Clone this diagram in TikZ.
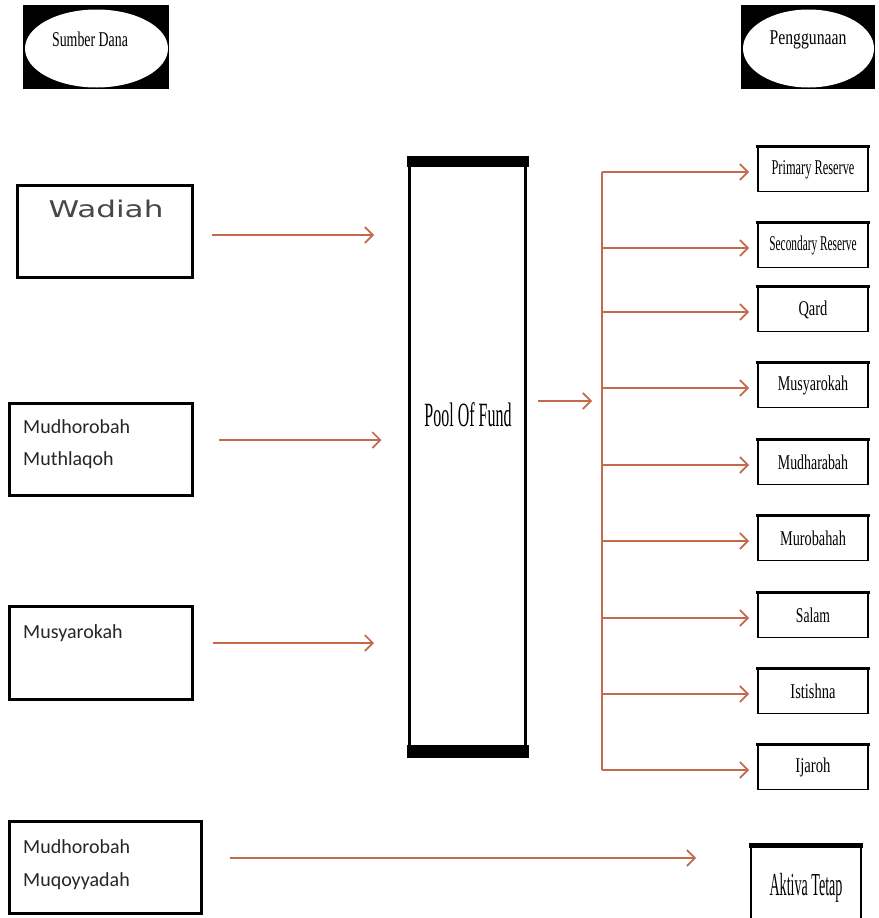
\documentclass[tikz,border=0pt]{standalone}
\usepackage{graphicx}
\usepackage{fontspec}
\setmainfont{Liberation Serif}
\newfontfamily\calfont{Carlito}
\newfontfamily\vfont{DejaVu Sans}
\usetikzlibrary{arrows.meta,shapes.geometric,calc}
\definecolor{arrc}{RGB}{196,105,75}
\newcommand\rs[2]{\scalebox{#1}[1]{#2}}
\begin{document}
\begin{tikzpicture}[x=1pt,y=-1pt,
 arr/.style={draw=arrc, line width=1.7pt, -{Straight Barb[length=8pt,width=16pt]}},
 bus/.style={draw=arrc, line width=1.7pt},
 lbox/.style={draw, line width=3pt, inner sep=0pt},
 rbox/.style={draw, line width=1.8pt, minimum width=110pt, minimum height=44pt, inner sep=0pt, font=\fontsize{21}{24}\selectfont},
 ltxt/.style={font=\calfont\fontsize{20}{24}\selectfont, text=black!85, inner sep=0pt, anchor=base west},
 hdbg/.style={fill=black, inner sep=0pt, minimum height=84pt},
 hdell/.style={ellipse, fill=white, inner sep=0pt, minimum height=78pt},
 hdtxt/.style={anchor=base, inner sep=0pt, font=\fontsize{21}{24}\selectfont},
]
\clip (0,0) rectangle (878,918);
\fill[white] (0,0) rectangle (878,918);

% headers
\node[hdbg, minimum width=146pt] (sdbg) at (96,47) {};
\node[hdell, minimum width=143pt] (sdell) at (96.5,48.5) {};
\node[hdtxt] (sdt) at (90,46) {\rs{0.66}{Sumber Dana}};
\node[hdbg, minimum width=134pt] (pgbg) at (808,47) {};
\node[hdell, minimum width=131pt] (pgell) at (808.5,48.5) {};
\node[hdtxt] (pgt) at (808,44) {\rs{0.75}{Penggunaan}};

% left boxes
\node[lbox, minimum width=175pt, minimum height=92pt] (wad) at (105,231.5) {};
\node[anchor=base, inner sep=0pt, text=black!72, font=\vfont\fontsize{23}{26}\selectfont] (wadt) at (106,217) {\rs{1.35}{Wadiah}};

\node[lbox, minimum width=183pt, minimum height=92pt] (mm) at (101,449.5) {};
\node[ltxt] (mmt1) at (23,433) {Mudhorobah};
\node[ltxt] (mmt2) at (23,465) {Muthlaqoh};

\node[lbox, minimum width=183pt, minimum height=93pt] (mus) at (101,653) {};
\node[ltxt] (must) at (23,638) {Musyarokah};

\node[lbox, minimum width=192pt, minimum height=92pt] (mq) at (105.5,867.5) {};
\node[ltxt] (mqt1) at (23,853) {Mudhorobah};
\node[ltxt] (mqt2) at (23,886) {Muqoyyadah};

% pool
\node[draw, line width=3pt, minimum width=116pt, minimum height=596pt, inner sep=0pt] (pool) at (467.5,456.5) {};
\fill ([xshift=-1.5pt,yshift=1.5pt]pool.north west) rectangle ([xshift=1.5pt,yshift=-9.5pt]pool.north east);
\fill ([xshift=-1.5pt,yshift=11.5pt]pool.south west) rectangle ([xshift=1.5pt,yshift=-1.5pt]pool.south east);
\node[anchor=base, inner sep=0pt, font=\fontsize{34}{36}\selectfont] (poolt) at (468,426) {\rs{0.47}{Pool Of Fund}};

% right boxes
\node[rbox] (prim) at (813,169.5) {\rs{0.59}{Primary Reserve}};
\node[rbox] (sec) at (813,245.5) {\rs{0.54}{Secondary Reserve}};
\node[rbox] (qard) at (813,309.5) {\rs{0.69}{Qard}};
\node[rbox] (musr) at (813,385.5) {\rs{0.67}{Musyarokah}};
\node[rbox] (mudr) at (813,462.5) {\rs{0.66}{Mudharabah}};
\node[rbox] (murb) at (813,538.5) {\rs{0.68}{Murobahah}};
\node[rbox] (salam) at (813,615.5) {\rs{0.65}{Salam}};
\node[rbox] (ists) at (813,691.5) {\rs{0.69}{Istishna}};
\node[rbox] (ijar) at (813,767.5) {\rs{0.7}{Ijaroh}};
\node[draw, line width=1.8pt, minimum width=110pt, minimum height=97pt, inner sep=0pt] (akt) at (806,896) {};
\node[anchor=base, inner sep=0pt, font=\fontsize{32}{36}\selectfont] (aktt) at (806,895) {\rs{0.44}{Aktiva Tetap}};

\foreach \n in {prim,sec,qard,musr,mudr,murb,salam,ists,ijar}
  \draw[line width=3pt] ([xshift=-0.9pt,yshift=0.6pt]\n.north west) -- ([xshift=0.9pt,yshift=0.6pt]\n.north east);
\draw[line width=4.5pt] ([xshift=-0.9pt,yshift=1.3pt]akt.north west) -- ([xshift=0.9pt,yshift=1.3pt]akt.north east);

% left arrows
\draw[arr, shorten <=18pt, shorten >=34pt] ($(wad.east)+(0,3.5)$) -- ($(wad.east -| pool.west)+(0,3.5)$);
\draw[arr, shorten <=25pt, shorten >=26.5pt] ($(mm.east)+(0,-9.5)$) -- ($(mm.east -| pool.west)+(0,-9.5)$);
\draw[arr, shorten <=19pt, shorten >=34pt] ($(mus.east)+(0,-10)$) -- ($(mus.east -| pool.west)+(0,-10)$);
\draw[arr, shorten <=26.5pt, shorten >=54pt] ($(mq.east)+(0,-9.5)$) -- ($(mq.east -| akt.west)+(0,-9.5)$);

% pool to bus
\coordinate (busc) at (602,401);
\draw[arr, shorten <=11pt, shorten >=10pt] (pool.east |- busc) -- (busc);
\draw[bus] ($(busc |- prim.west)+(0,2.5)$) -- ($(busc |- ijar.west)+(0,2.5)$);
\foreach \n in {prim,sec,qard,musr,mudr,murb,salam,ists,ijar}
  \draw[arr, shorten >=8pt] ($(busc |- \n.west)+(0,2.5)$) -- ($(\n.west)+(0,2.5)$);
\end{tikzpicture}
\end{document}
